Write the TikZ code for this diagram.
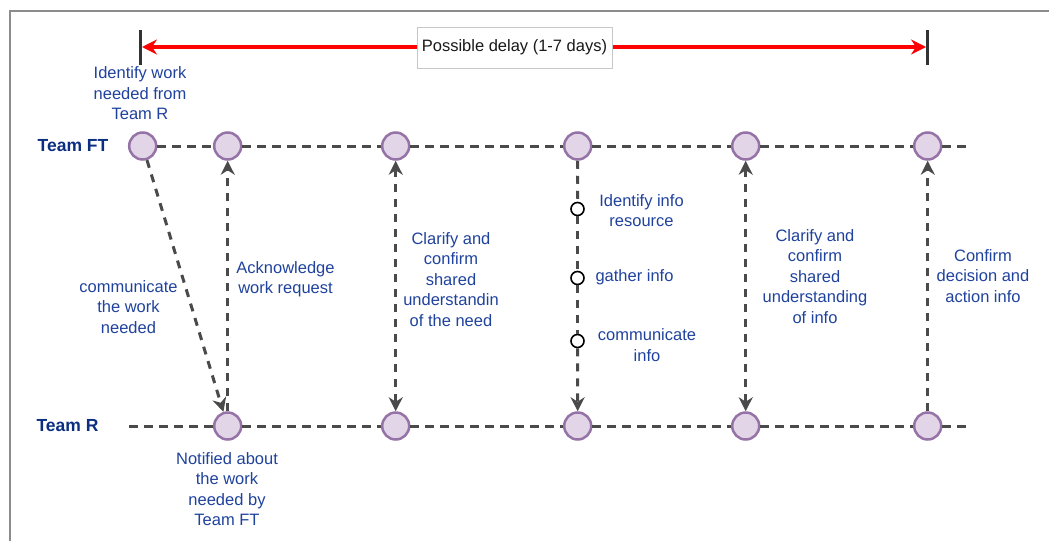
\documentclass[tikz,border=0pt]{standalone}
\usepackage{fontspec}
\setmainfont{Liberation Sans}
\usetikzlibrary{arrows.meta}
\definecolor{lbl}{HTML}{1F429C}
\definecolor{team}{HTML}{0C2E80}
\definecolor{evfill}{HTML}{E1D5E7}
\definecolor{evline}{HTML}{9673A6}
\definecolor{flow}{HTML}{4A4A4A}
\definecolor{frame}{HTML}{8C8C8C}
\tikzset{
  msgtip/.tip={Stealth[length=14pt,width=14pt,inset=4.5pt]},
  spantip/.tip={Stealth[length=15pt,width=15pt,inset=5pt]},
}
\begin{document}
\begin{tikzpicture}[x=1pt,y=-1pt,
  event/.style={circle,draw=evline,fill=evfill,line width=2.5pt,minimum size=27pt,inner sep=0pt},
  substep/.style={circle,draw=black,fill=white,line width=1.6pt,minimum size=13pt,inner sep=0pt},
  timeline/.style={draw=flow,line width=3pt,dash pattern=on 9pt off 6pt},
  msg/.style={draw=flow,line width=3pt,dash pattern=on 8pt off 7pt},
  note/.style={text=lbl,font=\fontsize{16.5}{20.5}\selectfont,align=center,inner sep=0pt},
  teamlbl/.style={text=team,font=\fontsize{17.5}{20}\selectfont\bfseries,inner sep=0pt},
  marker/.style={draw=black!80,line width=3pt},
]
\useasboundingbox (0,0) rectangle (1049,541);

% outer frame (open to the right and bottom)
\draw[frame,line width=2.5pt] (10,541) -- (10,11) -- (1049,11);

% delay span
\coordinate (tickLtop) at (140,30);
\coordinate (tickLbot) at (140,65);
\coordinate (tickRtop) at (927.5,30);
\coordinate (tickRbot) at (927.5,65);
\draw[marker] (tickLtop) -- (tickLbot);
\draw[marker] (tickRtop) -- (tickRbot);
\coordinate (spanL) at (142,47);
\coordinate (spanR) at (926,47);
\draw[red,line width=3.5pt,{spantip}-{spantip}] (spanL) -- (spanR);
\node[draw=black!22,fill=white,line width=1pt,minimum width=195pt,minimum height=41pt,inner sep=0pt,
      font=\fontsize{16.5}{20}\selectfont,text=black!90] (delay) at (514.5,47.5) {Possible delay (1-7 days)};

% team labels
\node[teamlbl] (teamFT) at (73,146) {Team FT};
\node[teamlbl] (teamR) at (67.5,426) {Team R};

% events on the Team FT line
\node[event] (ft1) at (142.7,146) {};
\node[event] (ft2) at (227.7,146) {};
\node[event] (ft3) at (395.7,146) {};
\node[event] (ft4) at (577.7,146) {};
\node[event] (ft5) at (745.7,146) {};
\node[event] (ft6) at (927.7,146) {};
\coordinate (ftEnd) at (968,146);

% events on the Team R line
\coordinate (rStart) at (129,426);
\node[event] (r2) at (227.7,426) {};
\node[event] (r3) at (395.7,426) {};
\node[event] (r4) at (577.7,426) {};
\node[event] (r5) at (745.7,426) {};
\node[event] (r6) at (927.7,426) {};
\coordinate (rEnd) at (968,426);

% timelines
\draw[timeline] (ft1) -- (ft2) -- (ft3) -- (ft4) -- (ft5) -- (ft6) -- (ftEnd);
\draw[timeline] (rStart) -- (r2) -- (r3) -- (r4) -- (r5) -- (r6) -- (rEnd);

% sub-steps of the information gathering
\node[substep] (s1) at (577.5,209) {};
\node[substep] (s2) at (577.5,278) {};
\node[substep] (s3) at (577.5,341) {};

% exchanges between the teams
\draw[msg,-{msgtip}] (ft1) -- (r2);
\draw[msg,-{msgtip}] (r2) -- (ft2);
\draw[msg,{msgtip}-{msgtip}] (ft3) -- (r3);
\draw[msg] (ft4) -- (s1);
\draw[msg] (s1) -- (s2);
\draw[msg] (s2) -- (s3);
\draw[msg,-{msgtip}] (s3) -- (r4);
\draw[msg,{msgtip}-{msgtip}] (ft5) -- (r5);
\draw[msg,-{msgtip}] (r6) -- (ft6);

% labels
\node[note] (nIdentify) at (140,93.5) {Identify work\\needed from\\Team R};
\node[note] (nComm) at (128.5,307) {communicate\\the work\\needed};
\node[note] (nAck) at (285.5,279) {Acknowledge\\work request};
\node[note] (nNotified) at (227,489) {Notified about\\the work\\needed by\\Team FT};
\node[note] (nClarify1) at (451,279.5) {Clarify and\\confirm\\shared\\understandin\\of the need};
\node[note] (nRes) at (641.5,210.5) {Identify info\\resource};
\node[note] (nGather) at (634.5,277.5) {gather info};
\node[note] (nCommInfo) at (647,345) {communicate\\info};
\node[note] (nClarify2) at (815,276.5) {Clarify and\\confirm\\shared\\understanding\\of info};
\node[note] (nConfirm) at (983,276) {Confirm\\decision and\\action info};
\end{tikzpicture}
\end{document}
